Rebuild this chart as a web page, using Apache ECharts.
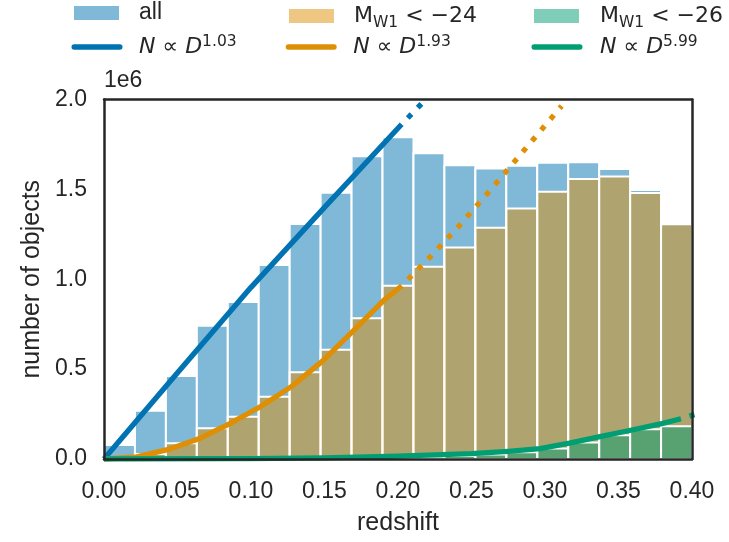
<!DOCTYPE html>
<html>
<head>
<meta charset="utf-8">
<script src="https://cdn.jsdelivr.net/npm/echarts@6/dist/echarts.min.js"></script>
<style>
  html, body { margin: 0; padding: 0; background: #ffffff; }
  #chart { width: 729px; height: 542px; }
</style>
</head>
<body>
<div id="chart"></div>
<script>
// Redshift histogram: 19 equal bins between z = 0 and z = 0.4
const zMin = 0.0;
const zMax = 0.4;
const binCount = 19;

// Counts per bin
const countsAll = [78000, 269000, 462000, 742000, 873000, 1079000, 1307000, 1481000, 1684000, 1790000,
                   1701000, 1634000, 1616000, 1632000, 1648000, 1651000, 1613000, 1497000, 1309000];
const countsW1m24 = [4000, 28000, 87000, 171000, 235000, 347000, 482000, 608000, 783000, 964000,
                     1070000, 1176000, 1287000, 1393000, 1487000, 1558000, 1571000, 1480000, 1306000];
const countsW1m26 = [200, 500, 1000, 1500, 2000, 3000, 4000, 5000, 7000, 9000,
                     12000, 17000, 25000, 37000, 59000, 92000, 132000, 166000, 182000];

// Power-law fits N ∝ D^k: [redshift, count] — solid where fitted, dotted beyond
const fitAllSolid = [[0, 0], [0.05, 480000], [0.1, 955000], [0.15, 1400000], [0.2025, 1862000]];
const fitAllDotted = [[0.2025, 1862000], [0.2163, 1979000]];
const fitW1m24Solid = [[0, 0], [0.0222, 12000], [0.0433, 52000], [0.0645, 112000], [0.0856, 197000],
                       [0.1066, 292000], [0.1277, 404000], [0.1488, 546000], [0.1697, 714000],
                       [0.1905, 884000], [0.2026, 964000]];
const fitW1m24Dotted = [[0.2026, 964000], [0.2216, 1122000], [0.2413, 1294000], [0.2603, 1472000],
                        [0.279, 1652000], [0.2977, 1833000], [0.3113, 1964000]];
const fitW1m26Solid = [[0, 0], [0.1, 2000], [0.15, 6000], [0.2, 16000], [0.25, 30000], [0.275, 43000],
                       [0.2966, 58000], [0.3166, 88000], [0.3374, 124000], [0.3583, 160000],
                       [0.3794, 197000], [0.3925, 224000]];
const fitW1m26Dotted = [[0.3925, 224000], [0.41, 268000]];

// Axis ticks
const xTicks = [0, 0.05, 0.1, 0.15, 0.2, 0.25, 0.3, 0.35, 0.4];
const yTicks = [0, 500000, 1000000, 1500000, 2000000];

const INK = '#262626';
const C_BLUE = '#0173b2', C_ORANGE = '#de8f05', C_GREEN = '#029e73';
const F_BLUE = 'rgba(1,115,178,0.5)', F_ORANGE = 'rgba(222,143,5,0.5)', F_GREEN = 'rgba(2,158,115,0.5)';

const binWidth = (zMax - zMin) / binCount;
function binRows(counts) {
  return counts.map((c, i) => [zMin + i * binWidth, zMin + (i + 1) * binWidth, c]);
}

function histSeries(name, counts, fill) {
  return {
    type: 'custom',
    name: name,
    data: binRows(counts),
    encode: { x: [0, 1], y: 2 },
    itemStyle: { color: fill },
    renderItem: function (params, api) {
      const top = api.coord([api.value(0), api.value(2)]);
      const base = api.coord([api.value(1), 0]);
      return {
        type: 'rect',
        shape: { x: top[0], y: top[1], width: base[0] - top[0], height: base[1] - top[1] },
        style: { fill: fill, stroke: '#ffffff', lineWidth: 2 }
      };
    },
    z: 2
  };
}

function fitSeries(name, data, color, dotted) {
  return {
    type: 'line',
    name: name,
    data: data,
    showSymbol: false,
    symbol: 'none',
    smooth: false,
    clip: true,
    itemStyle: { color: color },
    lineStyle: dotted
      ? { color: color, width: 5.3, type: [5.3, 9.0], dashOffset: 5.5, cap: 'butt' }
      : { color: color, width: 5.3, cap: 'butt', join: 'round' },
    emphasis: { disabled: true },
    z: 4
  };
}

const LEG_FONT = 22;
const SUB_FONT = 15.5;
const legendRich = {
  sp15: { width: 15 },
  sp16: { width: 16 },
  sp11: { width: 11.5 },
  sp12: { width: 12.5 },
  t: { fontFamily: 'Liberation Sans', fontSize: 23, color: INK, lineHeight: 24 },
  m: { fontFamily: 'DejaVu Sans', fontSize: LEG_FONT, color: INK, lineHeight: 24 },
  it: { fontFamily: 'DejaVu Sans', fontStyle: 'italic', fontSize: LEG_FONT, color: INK, lineHeight: 24 },
  sub: { fontFamily: 'DejaVu Sans', fontSize: SUB_FONT, color: INK, lineHeight: 16, padding: [13, 0, 0, 0] },
  sup: { fontFamily: 'DejaVu Sans', fontSize: SUB_FONT, color: INK, lineHeight: 16, padding: [0, 0, 11, 0] }
};

const legendLabels = {
  'all': '{sp15|}{t|all}',
  'M_W1 < −24': '{sp15|}{m|M}{sub|W1}{m| < −24}',
  'M_W1 < −26': '{sp16|}{m|M}{sub|W1}{m| < −26}',
  'N ∝ D^1.03': '{sp11|}{it|N}{m| ∝ }{it|D}{sup|1.03}',
  'N ∝ D^1.93': '{sp11|}{it|N}{m| ∝ }{it|D}{sup|1.93}',
  'N ∝ D^5.99': '{sp12|}{it|N}{m| ∝ }{it|D}{sup|5.99}'
};

const LINE_ICON = 'path://M2.65,0 H48.35 A2.65,2.65 0 0 1 48.35,5.3 H2.65 A2.65,2.65 0 0 1 2.65,0 Z';

function legendItem(name, left, top, isLine) {
  return {
    left: left,
    top: top,
    padding: 0,
    selectedMode: false,
    itemWidth: isLine ? 51 : 45,
    itemHeight: isLine ? 5.3 : 14,
    data: [{ name: name, icon: isLine ? LINE_ICON : 'rect' }],
    formatter: function (n) { return legendLabels[n]; },
    textStyle: { rich: legendRich }
  };
}

const chart = echarts.init(document.getElementById('chart'), null, { renderer: 'canvas' });

const axisLineStyle = { show: true, onZero: false, lineStyle: { color: INK, width: 2.5 } };

chart.setOption({
  animation: false,
  backgroundColor: '#ffffff',
  textStyle: { fontFamily: 'Liberation Sans' },
  grid: { left: 104, right: 37, top: 99.5, bottom: 83, containLabel: false },
  legend: [
    legendItem('all', 74, 1.5, false),
    legendItem('M_W1 < −24', 289, 1.5, false),
    legendItem('M_W1 < −26', 534, 1.5, false),
    legendItem('N ∝ D^1.03', 71.5, 33.5, true),
    legendItem('N ∝ D^1.93', 285.7, 33.5, true),
    legendItem('N ∝ D^5.99', 531.5, 33.5, true)
  ],
  xAxis: [
    {
      type: 'value', position: 'bottom', min: xTicks[0], max: xTicks[xTicks.length - 1],
      interval: xTicks[1] - xTicks[0], z: 10,
      axisLine: axisLineStyle, axisTick: { show: false }, splitLine: { show: false },
      axisLabel: { margin: 21, fontSize: 23, color: INK, fontFamily: 'Liberation Sans',
                   formatter: v => v.toFixed(2) },
      name: 'redshift', nameLocation: 'middle', nameGap: 52,
      nameTextStyle: { fontSize: 25, color: INK, fontFamily: 'Liberation Sans' }
    },
    {
      type: 'value', position: 'top', min: xTicks[0], max: xTicks[xTicks.length - 1], z: 10,
      axisLine: axisLineStyle, axisTick: { show: false }, splitLine: { show: false },
      axisLabel: { show: false }
    }
  ],
  yAxis: [
    {
      type: 'value', position: 'left', min: yTicks[0], max: yTicks[yTicks.length - 1],
      interval: yTicks[1] - yTicks[0], z: 10,
      axisLine: axisLineStyle, axisTick: { show: false }, splitLine: { show: false },
      axisLabel: { margin: 17, fontSize: 23, color: INK, fontFamily: 'Liberation Sans',
                   formatter: v => (v / 1e6).toFixed(1) },
      name: 'number of objects', nameLocation: 'middle', nameGap: 58, nameRotate: 90,
      nameTextStyle: { fontSize: 25, color: INK, fontFamily: 'Liberation Sans' }
    },
    {
      type: 'value', position: 'right', min: yTicks[0], max: yTicks[yTicks.length - 1], z: 10,
      axisLine: axisLineStyle, axisTick: { show: false }, splitLine: { show: false },
      axisLabel: { show: false }
    }
  ],
  graphic: [
    {
      type: 'text', left: 104, top: 69.5, z: 20,
      style: { text: '1e6', font: '23px "Liberation Sans"', fill: INK }
    }
  ],
  series: [
    histSeries('all', countsAll, F_BLUE),
    histSeries('M_W1 < −24', countsW1m24, F_ORANGE),
    histSeries('M_W1 < −26', countsW1m26, F_GREEN),
    fitSeries('N ∝ D^1.03', fitAllSolid, C_BLUE, false),
    fitSeries('N ∝ D^1.03 extension', fitAllDotted, C_BLUE, true),
    fitSeries('N ∝ D^1.93', fitW1m24Solid, C_ORANGE, false),
    fitSeries('N ∝ D^1.93 extension', fitW1m24Dotted, C_ORANGE, true),
    fitSeries('N ∝ D^5.99', fitW1m26Solid, C_GREEN, false),
    fitSeries('N ∝ D^5.99 extension', fitW1m26Dotted, C_GREEN, true)
  ]
});
</script>
</body>
</html>
